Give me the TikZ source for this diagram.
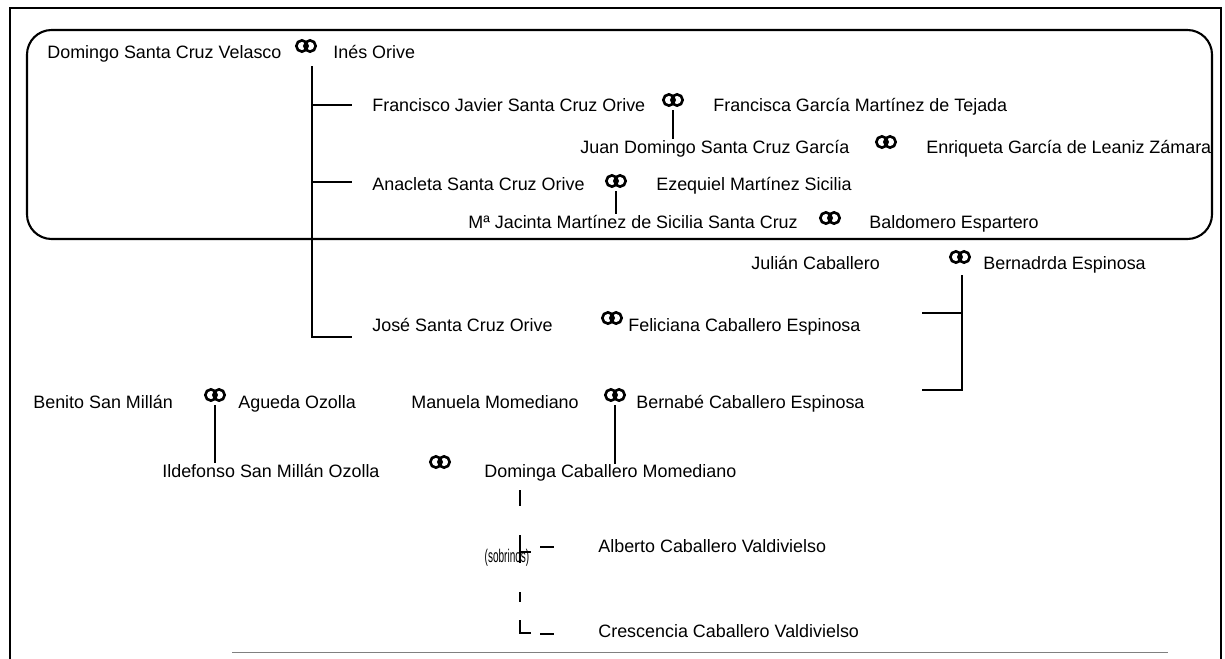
\documentclass[tikz,border=0pt]{standalone}
\usepackage{fontspec}
\usepackage{graphicx}
\setsansfont{Liberation Sans}

\begin{document}
\begin{tikzpicture}[x = 0.02cm, y = -0.02cm, font=\sffamily]
	\tikzstyle{nameStyle} = [anchor = base west, inner sep = 0pt, font = \sffamily\fontsize{10.2}{12}\selectfont]
	\tikzstyle{noteStyle} = [inner sep = 0pt, font = \sffamily\fontsize{9.5}{11}\selectfont]
	\tikzstyle{ringStyle} = [shape = rectangle, inner sep = 0pt, minimum width = 16pt, minimum height = 11pt, path picture = {\draw[line width = 1.5pt] ([xshift = -2.3pt]path picture bounding box.center) circle (3.2pt) ([xshift = 2.3pt]path picture bounding box.center) circle (3.2pt);}]
	\tikzstyle{treeStyle} = [line width = 1.1pt]
	\useasboundingbox (0,0) rectangle (1225,659);
	\draw[line width = 0.9pt] (10,659) -- (10,8) -- (1221,8) -- (1221,659);
	\draw[gray, thin] (232,652) -- (1168,652);
	\draw[line width = 1.2pt, rounded corners = 14pt] (27,30) rectangle (1212,239);
	\node[nameStyle] (p0) at (47,58) {Domingo Santa Cruz Velasco};
	\node[ringStyle] (m0) at (306,46) {};
	\node[nameStyle] (p1) at (333,58) {Inés Orive};
	\node[nameStyle] (p2) at (372,112) {Francisco Javier Santa Cruz Orive};
	\node[ringStyle] (m1) at (673,100) {};
	\node[nameStyle] (p3) at (713,112) {Francisca García Martínez de Tejada};
	\node[nameStyle] (p4) at (580,153) {Juan Domingo Santa Cruz García};
	\node[ringStyle] (m2) at (886,142) {};
	\node[nameStyle] (p5) at (926,153) {Enriqueta García de Leaniz Zámara};
	\node[nameStyle] (p6) at (372,190) {Anacleta Santa Cruz Orive};
	\node[ringStyle] (m3) at (616,181) {};
	\node[nameStyle] (p7) at (656,190) {Ezequiel Martínez Sicilia};
	\node[nameStyle] (p8) at (468,228) {Mª Jacinta Martínez de Sicilia Santa Cruz};
	\node[ringStyle] (m4) at (830,218) {};
	\node[nameStyle] (p9) at (869,228) {Baldomero Espartero};
	\node[nameStyle] (p10) at (751,269) {Julián Caballero};
	\node[ringStyle] (m5) at (960,257) {};
	\node[nameStyle] (p11) at (983,269) {Bernadrda Espinosa};
	\node[nameStyle] (p12) at (372,331) {José Santa Cruz Orive};
	\node[ringStyle] (m6) at (612,318) {};
	\node[nameStyle] (p13) at (628,331) {Feliciana Caballero Espinosa};
	\node[nameStyle] (p14) at (33,408) {Benito San Millán};
	\node[ringStyle] (m7) at (215,395) {};
	\node[nameStyle] (p15) at (238,408) {Agueda Ozolla};
	\node[nameStyle] (p16) at (411,408) {Manuela Momediano};
	\node[ringStyle] (m8) at (615,395) {};
	\node[nameStyle] (p17) at (636,408) {Bernabé Caballero Espinosa};
	\node[nameStyle] (p18) at (162,477) {Ildefonso San Millán Ozolla};
	\node[ringStyle] (m9) at (440,462) {};
	\node[nameStyle] (p19) at (484,477) {Dominga Caballero Momediano};
	\node[nameStyle] (p20) at (598,552) {Alberto Caballero Valdivielso};
	\node[noteStyle] (s0) at (507,558) {\scalebox{0.6}[1.1]{(sobrinos)}};
	\node[nameStyle] (p21) at (598,637) {Crescencia Caballero Valdivielso};
	\coordinate (c0) at (312,66);
	\coordinate (c1) at (312,337);
	\coordinate (b1) at (352,105);
	\coordinate (b2) at (352,182);
	\coordinate (b3) at (352,337);
	\coordinate (c2) at (962,275);
	\coordinate (c3) at (962,390);
	\coordinate (b4) at (922,313);
	\coordinate (b5) at (922,390);
	\coordinate (d0) at (520,490);
	\coordinate (d1) at (520,506);
	\coordinate (d2) at (520,535);
	\coordinate (d3) at (520,563);
	\coordinate (k1) at (520,552);
	\coordinate (e1) at (531,552);
	\coordinate (a1) at (540,547);
	\coordinate (a2) at (554,547);
	\coordinate (d4) at (520,592);
	\coordinate (d5) at (520,602);
	\coordinate (d6) at (520,620);
	\coordinate (k2) at (520,633);
	\coordinate (e2) at (531,633);
	\coordinate (a3) at (540,634);
	\coordinate (a4) at (554,634);
	\draw[treeStyle] (c0) -- (c1) -- (b3);
	\draw[treeStyle] (b1 -| c0) -- (b1);
	\draw[treeStyle] (b2 -| c0) -- (b2);
	\draw[treeStyle] (m1.south) -- (m1.south |- p4.north);
	\draw[treeStyle] (m3.south) -- (m3.south |- p8.north);
	\draw[treeStyle] (c2) -- (c3) -- (b5);
	\draw[treeStyle] (b4 -| c2) -- (b4);
	\draw[treeStyle] (m7.south) -- (m7.south |- p18.north);
	\draw[treeStyle] (m8.south) -- (m8.south |- p19.north);
	\draw[treeStyle] (d0) -- (d1);
	\draw[treeStyle] (d2) -- (d3);
	\draw[treeStyle] (k1) -- (e1);
	\draw[treeStyle] (a1) -- (a2);
	\draw[treeStyle] (d4) -- (d5);
	\draw[treeStyle] (d6) -- (k2) -- (e2);
	\draw[treeStyle] (a3) -- (a4);
\end{tikzpicture}
\end{document}
